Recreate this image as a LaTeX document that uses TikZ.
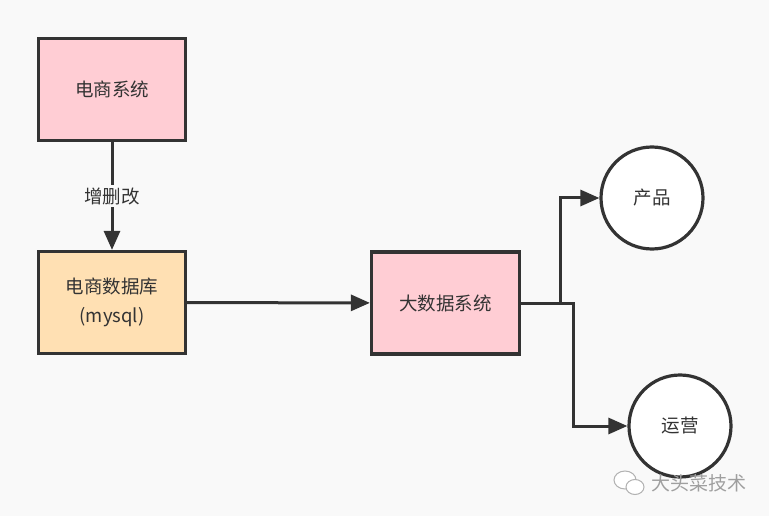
\documentclass[tikz,border=0pt]{standalone}
\usepackage{fontspec}
\setmainfont{Noto Sans CJK SC}
\usetikzlibrary{arrows.meta,shapes.geometric}
\definecolor{bgc}{HTML}{F9F9F9}
\definecolor{pinkf}{HTML}{FFCDD4}
\definecolor{orangef}{HTML}{FFE0B3}
\definecolor{linec}{HTML}{333333}
\begin{document}
\begin{tikzpicture}[x=1pt,y=-1pt,
  box/.style={draw=linec,line width=3.2pt,minimum width=147pt,minimum height=102pt,inner sep=0pt,font=\fontsize{18.5}{29}\selectfont,text=linec,align=center},
  circ/.style={draw=linec,line width=3.2pt,fill=white,circle,minimum size=102pt,inner sep=0pt,font=\fontsize{18.5}{22}\selectfont,text=linec},
  conn/.style={draw=linec,line width=3pt,-{Triangle[length=19pt,width=16pt]}},
  lbl/.style={fill=bgc,font=\fontsize{18.5}{22}\selectfont,text=linec,inner sep=2pt},
  wmark/.style={draw=gray!60,line width=1pt,fill=white}]
\fill[bgc] (0,0) rectangle (769,516);
\useasboundingbox (0,0) rectangle (769,516);
\node[box,fill=pinkf] (sys) at (112,89.5) {电商系统};
\node[box,fill=orangef] (db) at (112,302.5) {电商数据库\\(mysql)};
\node[box,fill=pinkf,minimum width=148pt] (big) at (445.5,303) {大数据系统};
\node[circ] (prod) at (652,198) {产品};
\node[circ] (ops) at (680,426) {运营};
\draw[conn] (sys) -- node[lbl,pos=0.5] {增删改} (db);
\draw[conn] (db) -- (big);
\coordinate (j1) at (560,303);
\coordinate (j2) at (573,303);
\draw[conn] (big.east) -- (j1) |- (prod.west);
\draw[conn] (big.east) -- (j2) |- (ops.west);
\draw[wmark] (625,480) ellipse (11pt and 9pt);
\draw[wmark] (635,487) ellipse (9pt and 7.5pt);
\node[text=gray!75,font=\fontsize{19}{22}\selectfont,anchor=west] (wm) at (648,483) {大头菜技术};
\end{tikzpicture}
\end{document}
